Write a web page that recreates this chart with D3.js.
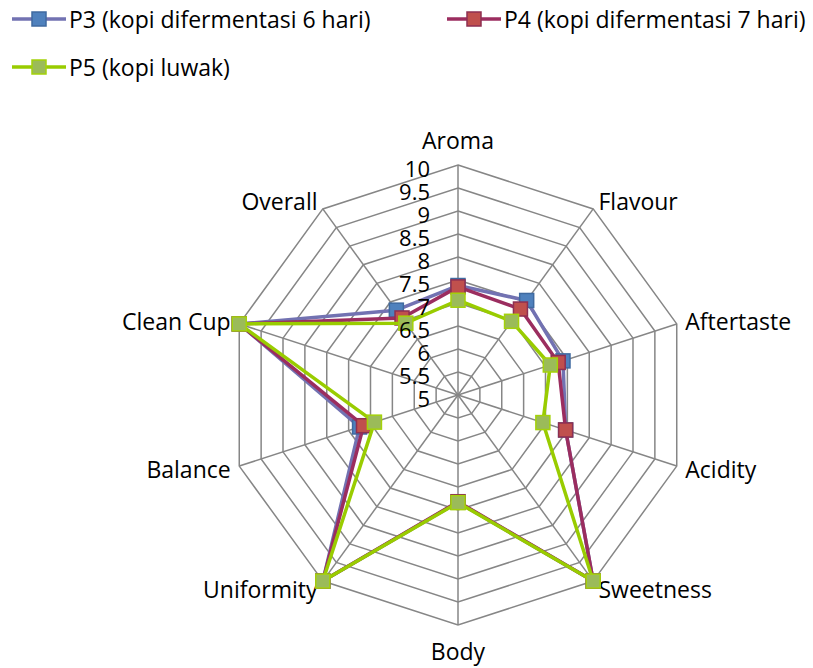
<!DOCTYPE html>
<html>
<head>
<meta charset="utf-8">
<script src="https://cdn.jsdelivr.net/npm/d3@7"></script>
<style>
  body { margin: 0; background: #fff; }
  svg text { font-family: "Open Sans", Lato, sans-serif; fill: #000; }
</style>
</head>
<body>
<div id="chart"></div>
<script>
// cupping scores per attribute
const categories = ["Aroma","Flavour","Aftertaste","Acidity","Sweetness","Body","Uniformity","Balance","Clean Cup","Overall"];
const p3 = [7.38, 7.54, 7.40, 7.46, 10, 7.33, 10, 7.25, 10, 7.28];
const p4 = [7.35, 7.31, 7.29, 7.46, 10, 7.32, 10, 7.16, 10, 7.07];
const p5 = [7.06, 6.98, 7.11, 6.94, 10, 7.34, 10, 6.91, 10, 6.93];
const seriesNames = ["P3 (kopi difermentasi 6 hari)", "P4 (kopi difermentasi 7 hari)", "P5 (kopi luwak)"];
const ticks = [5, 5.5, 6, 6.5, 7, 7.5, 8, 8.5, 9, 9.5, 10];

const W = 813, H = 668;
const cx = 458, cy = 395, R = 230;
const fs = 23;
const colors = [
  {line: "#7272B2", fill: "#4F81BD", stroke: "#3F6AA0"},
  {line: "#9B2D5F", fill: "#C0504D", stroke: "#8E2F52"},
  {line: "#99CC00", fill: "#9BBB59", stroke: "#A4D20A"}
];

const svg = d3.select("#chart").append("svg")
  .attr("width", W).attr("height", H);

const r = d3.scaleLinear().domain([5, 10]).range([0, R]);
const angle = (i) => i * 2 * Math.PI / categories.length;
const pt = (i, v) => [cx + r(v) * Math.sin(angle(i)), cy - r(v) * Math.cos(angle(i))];

const grid = svg.append("g");
// rings
ticks.slice(1).forEach((t) => {
  grid.append("path")
    .attr("d", d3.line()(categories.map((c, i) => pt(i, t))) + "Z")
    .attr("fill", "none").attr("stroke", "#868686").attr("stroke-width", 1.5);
});
// spokes
categories.forEach((c, i) => {
  const [x, y] = pt(i, 10);
  grid.append("line").attr("x1", cx).attr("y1", cy).attr("x2", x).attr("y2", y)
    .attr("stroke", "#868686").attr("stroke-width", 1.5);
});

// category labels
categories.forEach((c, i) => {
  const a = angle(i), s = Math.sin(a), co = Math.cos(a);
  let x = cx + (R + 9) * s, y = cy - (R + 10) * co;
  let anchor = "middle";
  if (s > 0.01) anchor = "start"; else if (s < -0.01) anchor = "end";
  if (Math.abs(s) < 0.01) y += co > 0 ? -15 : 16;
  svg.append("text").attr("x", x).attr("y", y)
    .attr("text-anchor", anchor).attr("dominant-baseline", "central")
    .attr("font-size", fs).text(c);
});

// series
[p3, p4, p5].forEach((vals, k) => {
  const g = svg.append("g");
  g.append("path")
    .attr("d", d3.line()(vals.map((v, i) => pt(i, v))) + "Z")
    .attr("fill", "none").attr("stroke", colors[k].line)
    .attr("stroke-width", 3.5).attr("stroke-linejoin", "round");
  g.selectAll("rect").data(vals).join("rect")
    .attr("x", (v, i) => pt(i, v)[0] - 7)
    .attr("y", (v, i) => pt(i, v)[1] - 7)
    .attr("width", 14).attr("height", 14)
    .attr("fill", colors[k].fill).attr("stroke", colors[k].stroke).attr("stroke-width", 1.5);
});

// value axis labels
ticks.forEach((t) => {
  svg.append("text").attr("x", 430).attr("y", cy - r(t) + 3)
    .attr("text-anchor", "end").attr("dominant-baseline", "central")
    .attr("font-size", 22).text(t);
});

// legend
const legendPos = [[12, 19], [447, 19], [12, 67]];
seriesNames.forEach((name, k) => {
  const [lx, ly] = legendPos[k];
  const g = svg.append("g").attr("transform", `translate(${lx},${ly})`);
  g.append("line").attr("x1", 0).attr("x2", 54).attr("y1", 0).attr("y2", 0)
    .attr("stroke", colors[k].line).attr("stroke-width", 3.5);
  g.append("rect").attr("x", 20).attr("y", -7).attr("width", 14).attr("height", 14)
    .attr("fill", colors[k].fill).attr("stroke", colors[k].stroke).attr("stroke-width", 1.5);
  g.append("text").attr("x", 57).attr("y", 0).attr("dominant-baseline", "central")
    .attr("font-size", fs).text(name);
});
</script>
</body>
</html>
